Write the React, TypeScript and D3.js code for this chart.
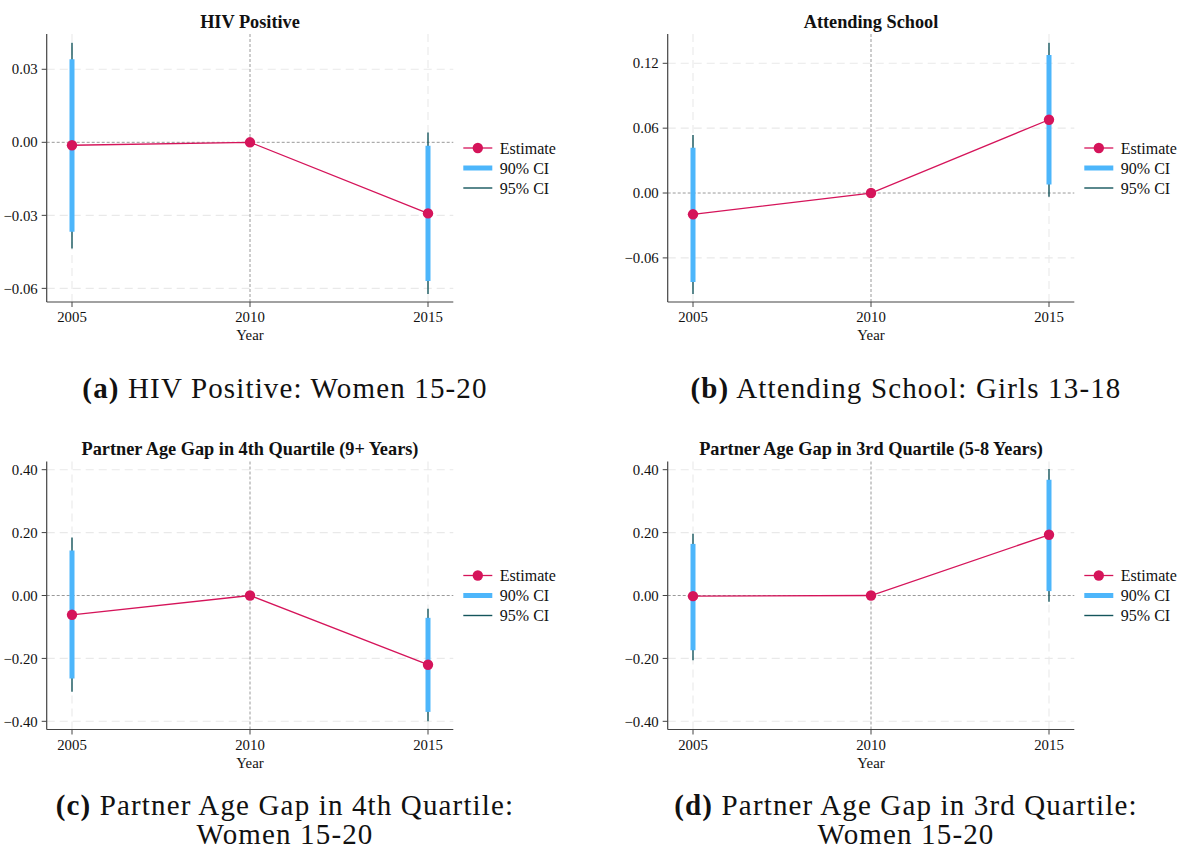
import React from "react";
import * as d3 from "d3";

// Event-study estimates relative to 2010 (reference year carries no interval)
const years = [2005, 2010, 2015];

const hivEst = [-0.0012, 0, -0.0292];
const hivLo90 = [-0.0367, null, -0.057];
const hivHi90 = [0.0341, null, -0.0014];
const hivLo95 = [-0.0436, null, -0.0623];
const hivHi95 = [0.0409, null, 0.004];
const hivTicks = [-0.06, -0.03, 0, 0.03];

const schoolEst = [-0.0197, 0, 0.0678];
const schoolLo90 = [-0.0822, null, 0.008];
const schoolHi90 = [0.0419, null, 0.1277];
const schoolLo95 = [-0.0935, null, -0.0034];
const schoolHi95 = [0.0537, null, 0.139];
const schoolTicks = [-0.06, 0, 0.06, 0.12];

const gap4Est = [-0.0614, 0, -0.22];
const gap4Lo90 = [-0.2636, null, -0.37];
const gap4Hi90 = [0.143, null, -0.071];
const gap4Lo95 = [-0.306, null, -0.4];
const gap4Hi95 = [0.184, null, -0.0423];
const gapTicks = [-0.4, -0.2, 0, 0.2, 0.4];

const gap3Est = [-0.002, 0, 0.193];
const gap3Lo90 = [-0.174, null, 0.014];
const gap3Hi90 = [0.164, null, 0.368];
const gap3Lo95 = [-0.206, null, -0.02];
const gap3Hi95 = [0.196, null, 0.402];

const legendLabels = ["Estimate", "90% CI", "95% CI"];

const C_EST = "#d5145a";
const C_90 = "#4db6fb";
const C_95 = "#14555c";
const C_AXIS = "#444";
const C_GRID = "#e9e9e9";
const C_REF = "#9a9a9a";
const SERIF = "'Liberation Serif', 'Times New Roman', serif";

type PanelProps = {
  x0: number;
  top: number;
  bottom: number;
  title: string;
  yDomain: [number, number];
  ticks: number[];
  est: number[];
  lo90: (number | null)[];
  hi90: (number | null)[];
  lo95: (number | null)[];
  hi95: (number | null)[];
  captionTag: string;
  captionLines: string[];
  captionY: number;
};

function Panel(p: PanelProps) {
  const x = d3.scaleLinear().domain([2005, 2015]).range([p.x0 + 72, p.x0 + 428]);
  const y = d3.scaleLinear().domain(p.yDomain).range([p.bottom, p.top]);
  const left = p.x0 + 46.7;
  const right = p.x0 + 453.3;
  const fmt = d3.format(".2f");
  const line = d3
    .line<number>()
    .x((_, i) => x(years[i]))
    .y((d) => y(d));
  const mid = (p.top + p.bottom) / 2;
  const legX = right + 10;
  const capX = p.x0 + 285;

  return (
    <g>
      <text
        x={x(2010)}
        y={p.top - 6.5}
        textAnchor="middle"
        fontFamily={SERIF}
        fontWeight="bold"
        fontSize={18.3}
        fill="#111"
      >
        {p.title}
      </text>

      {/* grid */}
      {p.ticks
        .filter((t) => t !== 0)
        .map((t) => (
          <line
            key={"gy" + t}
            x1={left}
            x2={right}
            y1={y(t)}
            y2={y(t)}
            stroke={C_GRID}
            strokeWidth={1.1}
            strokeDasharray="8 5"
          />
        ))}
      {[2005, 2015].map((yr) => (
        <line
          key={"gx" + yr}
          x1={x(yr)}
          x2={x(yr)}
          y1={p.top}
          y2={p.bottom}
          stroke={C_GRID}
          strokeWidth={1.1}
          strokeDasharray="8 5"
        />
      ))}
      {/* reference lines */}
      <line x1={left} x2={right} y1={y(0)} y2={y(0)} stroke={C_REF} strokeWidth={1} strokeDasharray="3 2" />
      <line x1={x(2010)} x2={x(2010)} y1={p.top} y2={p.bottom} stroke={C_REF} strokeWidth={1} strokeDasharray="3 2" />

      {/* axes */}
      <line x1={left} x2={left} y1={p.top} y2={p.bottom} stroke={C_AXIS} strokeWidth={1.2} />
      <line x1={left} x2={right} y1={p.bottom} y2={p.bottom} stroke={C_AXIS} strokeWidth={1.2} />
      {p.ticks.map((t) => (
        <g key={"ty" + t}>
          <line x1={left - 5} x2={left} y1={y(t)} y2={y(t)} stroke={C_AXIS} strokeWidth={1} />
          <text
            x={left - 9}
            y={y(t)}
            dy="0.35em"
            textAnchor="end"
            fontFamily={SERIF}
            fontSize={14.8}
            fill="#111"
          >
            {fmt(t)}
          </text>
        </g>
      ))}
      {years.map((yr) => (
        <g key={"tx" + yr}>
          <line x1={x(yr)} x2={x(yr)} y1={p.bottom} y2={p.bottom + 5} stroke={C_AXIS} strokeWidth={1} />
          <text
            x={x(yr)}
            y={p.bottom + 20.3}
            textAnchor="middle"
            fontFamily={SERIF}
            fontSize={14.8}
            fill="#111"
          >
            {yr}
          </text>
        </g>
      ))}
      <text
        x={x(2010)}
        y={p.bottom + 38}
        textAnchor="middle"
        fontFamily={SERIF}
        fontSize={14.8}
        fill="#111"
      >
        Year
      </text>

      {/* 95% intervals */}
      {years.map((yr, i) =>
        p.lo95[i] == null ? null : (
          <line
            key={"c95" + yr}
            x1={x(yr)}
            x2={x(yr)}
            y1={y(p.lo95[i] as number)}
            y2={y(p.hi95[i] as number)}
            stroke={C_95}
            strokeWidth={1.4}
          />
        )
      )}
      {/* 90% intervals */}
      {years.map((yr, i) =>
        p.lo90[i] == null ? null : (
          <line
            key={"c90" + yr}
            x1={x(yr)}
            x2={x(yr)}
            y1={y(p.lo90[i] as number)}
            y2={y(p.hi90[i] as number)}
            stroke={C_90}
            strokeWidth={5}
          />
        )
      )}
      <path d={line(p.est) || ""} fill="none" stroke={C_EST} strokeWidth={1.3} />
      {years.map((yr, i) => (
        <circle key={"pt" + yr} cx={x(yr)} cy={y(p.est[i])} r={5.2} fill={C_EST} />
      ))}

      {/* legend */}
      <line x1={legX} x2={legX + 29} y1={mid - 20} y2={mid - 20} stroke={C_EST} strokeWidth={1.3} />
      <circle cx={legX + 14.5} cy={mid - 20} r={5.2} fill={C_EST} />
      <line x1={legX} x2={legX + 29} y1={mid} y2={mid} stroke={C_90} strokeWidth={5} />
      <line x1={legX} x2={legX + 29} y1={mid + 20} y2={mid + 20} stroke={C_95} strokeWidth={1.4} />
      {legendLabels.map((lab, i) => (
        <text
          key={lab}
          x={legX + 36.5}
          y={mid - 20 + i * 20}
          dy="0.35em"
          fontFamily={SERIF}
          fontSize={16}
          fill="#111"
        >
          {lab}
        </text>
      ))}

      {/* caption */}
      {p.captionLines.map((ln, i) => (
        <text
          key={"cap" + i}
          x={capX}
          y={p.captionY + i * 29}
          textAnchor="middle"
          fontFamily={SERIF}
          fontSize={29}
          letterSpacing={1.15}
          fill="#111"
        >
          {i === 0 ? (
            <>
              <tspan fontWeight="bold">{p.captionTag}</tspan>
              {" " + ln}
            </>
          ) : (
            ln
          )}
        </text>
      ))}
    </g>
  );
}

export default function App() {
  const rowOff = 427.5;
  return (
    <div style={{ position: "absolute", left: 0, top: 0 }}>
      <svg width={1180} height={854} style={{ display: "block", background: "#fff" }}>
        <rect width={1180} height={854} fill="#fff" />
        <Panel
          x0={0}
          top={34}
          bottom={302}
          title="HIV Positive"
          yDomain={[-0.0656, 0.0445]}
          ticks={hivTicks}
          est={hivEst}
          lo90={hivLo90}
          hi90={hivHi90}
          lo95={hivLo95}
          hi95={hivHi95}
          captionTag="(a)"
          captionLines={["HIV Positive: Women 15-20"]}
          captionY={398}
        />
        <Panel
          x0={621}
          top={34}
          bottom={302}
          title="Attending School"
          yDomain={[-0.1008, 0.1471]}
          ticks={schoolTicks}
          est={schoolEst}
          lo90={schoolLo90}
          hi90={schoolHi90}
          lo95={schoolLo95}
          hi95={schoolHi95}
          captionTag="(b)"
          captionLines={["Attending School: Girls 13-18"]}
          captionY={398}
        />
        <Panel
          x0={0}
          top={34 + rowOff}
          bottom={302 + rowOff}
          title="Partner Age Gap in 4th Quartile (9+ Years)"
          yDomain={[-0.426, 0.426]}
          ticks={gapTicks}
          est={gap4Est}
          lo90={gap4Lo90}
          hi90={gap4Hi90}
          lo95={gap4Lo95}
          hi95={gap4Hi95}
          captionTag="(c)"
          captionLines={["Partner Age Gap in 4th Quartile:", "Women 15-20"]}
          captionY={815}
        />
        <Panel
          x0={621}
          top={34 + rowOff}
          bottom={302 + rowOff}
          title="Partner Age Gap in 3rd Quartile (5-8 Years)"
          yDomain={[-0.426, 0.426]}
          ticks={gapTicks}
          est={gap3Est}
          lo90={gap3Lo90}
          hi90={gap3Hi90}
          lo95={gap3Lo95}
          hi95={gap3Hi95}
          captionTag="(d)"
          captionLines={["Partner Age Gap in 3rd Quartile:", "Women 15-20"]}
          captionY={815}
        />
      </svg>
    </div>
  );
}
